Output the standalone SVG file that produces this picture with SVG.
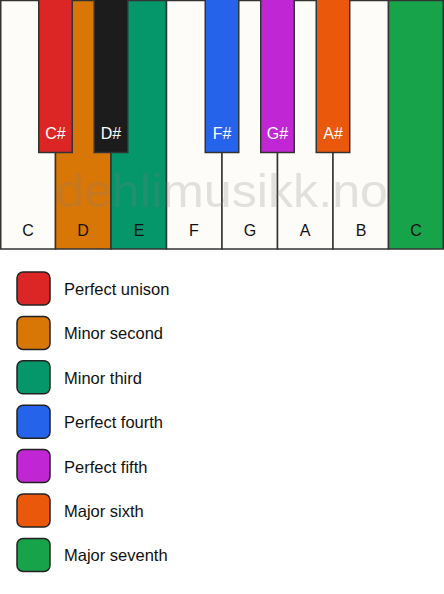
<svg xmlns="http://www.w3.org/2000/svg" width="444" height="594" viewBox="0 0 444 594">
<style>
.w{stroke:#333;stroke-width:1.5}
.b{stroke:#333;stroke-width:1.5}
.lw{font-family:"Liberation Sans",Arial,sans-serif;font-size:16px;fill:#111;text-anchor:middle}
.lb{font-family:"Liberation Sans",Arial,sans-serif;font-size:16px;fill:#fff;text-anchor:middle}
.sw{stroke:#222;stroke-width:1.5}
.lt{font-family:"Liberation Sans",Arial,sans-serif;font-size:16.5px;fill:#111}
.wm{font-family:"Liberation Sans",Arial,sans-serif;font-size:47px;fill:#808080;fill-opacity:0.22}
</style>
<rect x="0" y="0" width="444" height="594" fill="#fff"/>
<g id="keyboard">
<g id="key-C"><rect class="w" x="0.75" y="0.5" width="54.75" height="248.5" fill="#FDFCF8"/><text class="lw" x="28" y="236">C</text></g>
<g id="key-D"><rect class="w" x="55.5" y="0.5" width="55.5" height="248.5" fill="#D97706"/><text class="lw" x="83" y="236">D</text></g>
<g id="key-E"><rect class="w" x="111" y="0.5" width="55.5" height="248.5" fill="#059669"/><text class="lw" x="139" y="236">E</text></g>
<g id="key-F"><rect class="w" x="166.5" y="0.5" width="55.5" height="248.5" fill="#FDFCF8"/><text class="lw" x="194" y="236">F</text></g>
<g id="key-G"><rect class="w" x="222" y="0.5" width="55.5" height="248.5" fill="#FDFCF8"/><text class="lw" x="250" y="236">G</text></g>
<g id="key-A"><rect class="w" x="277.5" y="0.5" width="55.5" height="248.5" fill="#FDFCF8"/><text class="lw" x="305" y="236">A</text></g>
<g id="key-B"><rect class="w" x="333" y="0.5" width="55.5" height="248.5" fill="#FDFCF8"/><text class="lw" x="361" y="236">B</text></g>
<g id="key-C2"><rect class="w" x="388.5" y="0.5" width="54.75" height="248.5" fill="#16A34A"/><text class="lw" x="416" y="236">C</text></g>
<text class="wm" x="56" y="207" textLength="332" lengthAdjust="spacingAndGlyphs">dehlimusikk.no</text>
<g id="key-Cs"><rect class="b" x="38.75" y="-1" width="33.5" height="153.5" fill="#DC2626"/><text class="lb" x="55.5" y="139">C#</text></g>
<g id="key-Ds"><rect class="b" x="94.25" y="-1" width="33.5" height="153.5" fill="#1C1C1C"/><text class="lb" x="111" y="139">D#</text></g>
<g id="key-Fs"><rect class="b" x="205.25" y="-1" width="33.5" height="153.5" fill="#2563EB"/><text class="lb" x="222" y="139">F#</text></g>
<g id="key-Gs"><rect class="b" x="260.75" y="-1" width="33.5" height="153.5" fill="#C026D3"/><text class="lb" x="277.5" y="139">G#</text></g>
<g id="key-As"><rect class="b" x="316.25" y="-1" width="33.5" height="153.5" fill="#EA580C"/><text class="lb" x="333" y="139">A#</text></g>
</g>
<g id="legend">
<g id="leg-1"><rect class="sw" x="17" y="272" width="33" height="33" rx="6" fill="#DC2626"/><text class="lt" x="64" y="295">Perfect unison</text></g>
<g id="leg-2"><rect class="sw" x="17" y="316.4" width="33" height="33" rx="6" fill="#D97706"/><text class="lt" x="64" y="339.4">Minor second</text></g>
<g id="leg-3"><rect class="sw" x="17" y="360.8" width="33" height="33" rx="6" fill="#059669"/><text class="lt" x="64" y="383.8">Minor third</text></g>
<g id="leg-4"><rect class="sw" x="17" y="405.2" width="33" height="33" rx="6" fill="#2563EB"/><text class="lt" x="64" y="428.2">Perfect fourth</text></g>
<g id="leg-5"><rect class="sw" x="17" y="449.6" width="33" height="33" rx="6" fill="#C026D3"/><text class="lt" x="64" y="472.6">Perfect fifth</text></g>
<g id="leg-6"><rect class="sw" x="17" y="494" width="33" height="33" rx="6" fill="#EA580C"/><text class="lt" x="64" y="517">Major sixth</text></g>
<g id="leg-7"><rect class="sw" x="17" y="538.4" width="33" height="33" rx="6" fill="#16A34A"/><text class="lt" x="64" y="561.4">Major seventh</text></g>
</g>
</svg>
